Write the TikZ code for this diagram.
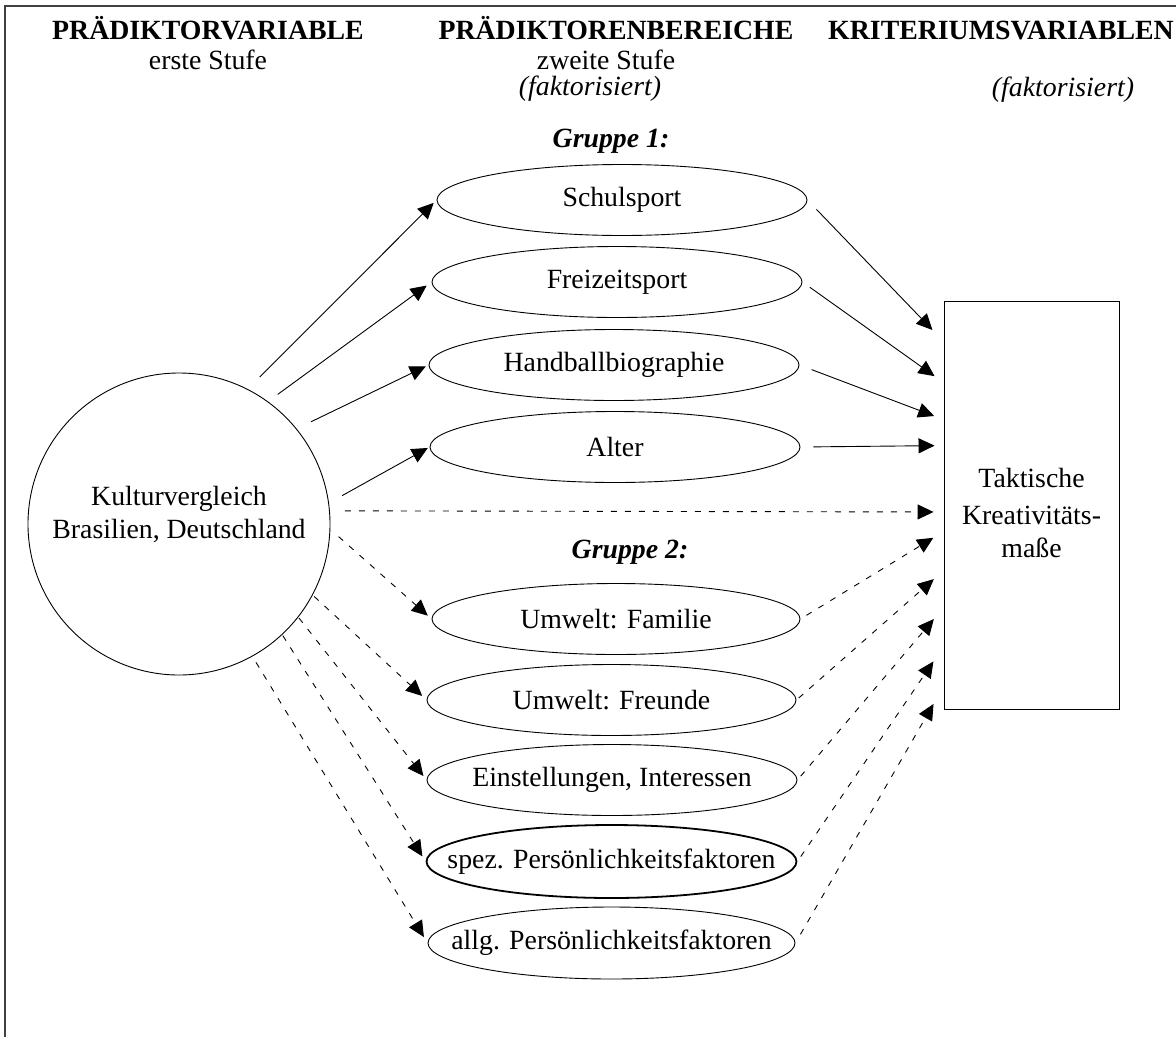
\documentclass[tikz,border=0pt]{standalone}
\usepackage{fontspec}
\setmainfont{Liberation Serif}
\usetikzlibrary{arrows.meta,shapes.geometric,calc}
\newcommand{\ctext}[1]{\makebox[0pt]{#1}}
\begin{document}
\begin{tikzpicture}[x=1pt,y=-1pt,
  font=\fontsize{27.8}{33}\selectfont,
  ell/.style={ellipse,draw,line width=0.9pt,minimum width=370pt,minimum height=71pt,inner sep=0pt},
  sarr/.style={draw,line width=0.9pt,-{Triangle[length=16pt,width=15pt]}},
  darr/.style={sarr,dash pattern=on 6pt off 8pt},
  head/.style={anchor=base,inner sep=0pt,font=\fontsize{27.8}{33}\selectfont\bfseries},
  sub/.style={anchor=base,inner sep=0pt}]
\useasboundingbox (0,0) rectangle (1176,1037);
% frame
\draw[line width=1.3pt,black!75] (5,1037) -- (5,6) -- (1176,6);
% headers
\node[head] (h1) at (208,39) {PRÄDIKTORVARIABLE};
\node[sub] (h1a) at (208,69) {erste Stufe};
\node[head] (h2) at (616,39) {PRÄDIKTORENBEREICHE};
\node[sub] (h2a) at (606,69) {zweite Stufe};
\node[sub] (h2b) at (590,95) {\itshape (faktorisiert)};
\node[head] (h3) at (1001,39) {KRITERIUMSVARIABLEN};
\node[sub] (h3b) at (1063,96) {\itshape (faktorisiert)};
\node[head] (g1) at (611,147) {\itshape Gruppe 1:};
\node[head] (g2) at (630,558) {\itshape Gruppe 2:};
% left circle
\node[circle,draw,line width=0.9pt,minimum size=302pt,inner sep=0pt] (kv) at (179,524) {};
\node[align=center,inner sep=0pt] (kvtext) at (179,514) {Kulturvergleich\\Brasilien, Deutschland};
% right box
\node[draw,line width=0.9pt,minimum width=175pt,minimum height=408pt,inner sep=0pt] (krit) at (1031.5,505) {};
\node[align=center,inner sep=0pt] (krittext) at (1031.5,513) {Taktische\\[4pt]Kreativitäts-\\maße};
% ellipses
\node[ell] (schul) at (622,200) {\ctext{Schulsport}};
\node[ell] (frei) at (617,282) {\ctext{Freizeitsport}};
\node[ell] (hand) at (614,365) {\ctext{Handballbiographie}};
\node[ell] (alter) at (615,447) {\ctext{Alter}};
\node[ell,minimum width=368pt] (fam) at (616,619) {\ctext{Umwelt: Familie}};
\node[ell,minimum width=369pt] (freu) at (611.5,700) {\ctext{Umwelt: Freunde}};
\node[ell] (ein) at (612,780) {\ctext{Einstellungen, Interessen}};
\node[ell,line width=1.8pt,minimum height=73pt] (spez) at (611.5,861.5) {\ctext{spez. Persönlichkeitsfaktoren}};
\node[ell,minimum width=367pt,minimum height=72pt] (allg) at (611.5,943) {\ctext{allg. Persönlichkeitsfaktoren}};
% left solid arrows
\draw[sarr,shorten <=17pt,shorten >=4pt] (kv.63) -- (schul.west);
\draw[sarr,shorten <=12pt,shorten >=6pt] (kv.54) -- (frei.west);
\draw[sarr,shorten <=16pt,shorten >=3pt] (kv.39) -- (hand.west);
\draw[sarr,shorten <=15pt,shorten >=2pt] (kv.8) -- (alter.west);
% horizontal dashed
\draw[darr,shorten <=15pt,shorten >=10pt] (kv.5) -- ($(krit.west)+(0,7)$);
% left dashed arrows
\draw[darr,shorten <=11pt,shorten >=5pt] (kv.-2) -- (fam.west);
\draw[darr,shorten <=2pt,shorten >=6pt] (kv.-28) -- (freu.west);
\draw[darr,shorten <=1pt,shorten >=5pt] (kv.-38) -- (ein.west);
\draw[darr,shorten <=1pt,shorten >=6pt] (kv.-47) -- (spez.west);
\draw[darr,shorten <=7pt,shorten >=7pt] (kv.-61) -- (allg.west);
% right solid arrows
\draw[sarr,shorten <=13pt,shorten >=16pt] (schul.east) -- ($(krit.north west)+(0,41)$);
\draw[sarr,shorten <=9pt,shorten >=11pt] (frei.east) -- ($(krit.north west)+(0,82)$);
\draw[sarr,shorten <=13pt,shorten >=10pt] (hand.east) -- ($(krit.north west)+(0,119)$);
\draw[sarr,shorten <=13pt,shorten >=9pt] (alter.east) -- ($(krit.north west)+(0,145)$);
% right dashed arrows
\draw[darr,shorten <=7pt,shorten >=12pt] (fam.east) -- ($(krit.north west)+(0,231)$);
\draw[darr,shorten <=3pt,shorten >=13pt] (freu.east) -- ($(krit.north west)+(0,270)$);
\draw[darr,shorten <=5pt,shorten >=15pt] (ein.east) -- ($(krit.north west)+(0,307)$);
\draw[darr,shorten <=6pt,shorten >=18pt] (spez.east) -- ($(krit.north west)+(0,346)$);
\draw[darr,shorten <=10pt,shorten >=20pt] (allg.east) -- ($(krit.north west)+(0,386)$);
\end{tikzpicture}
\end{document}
